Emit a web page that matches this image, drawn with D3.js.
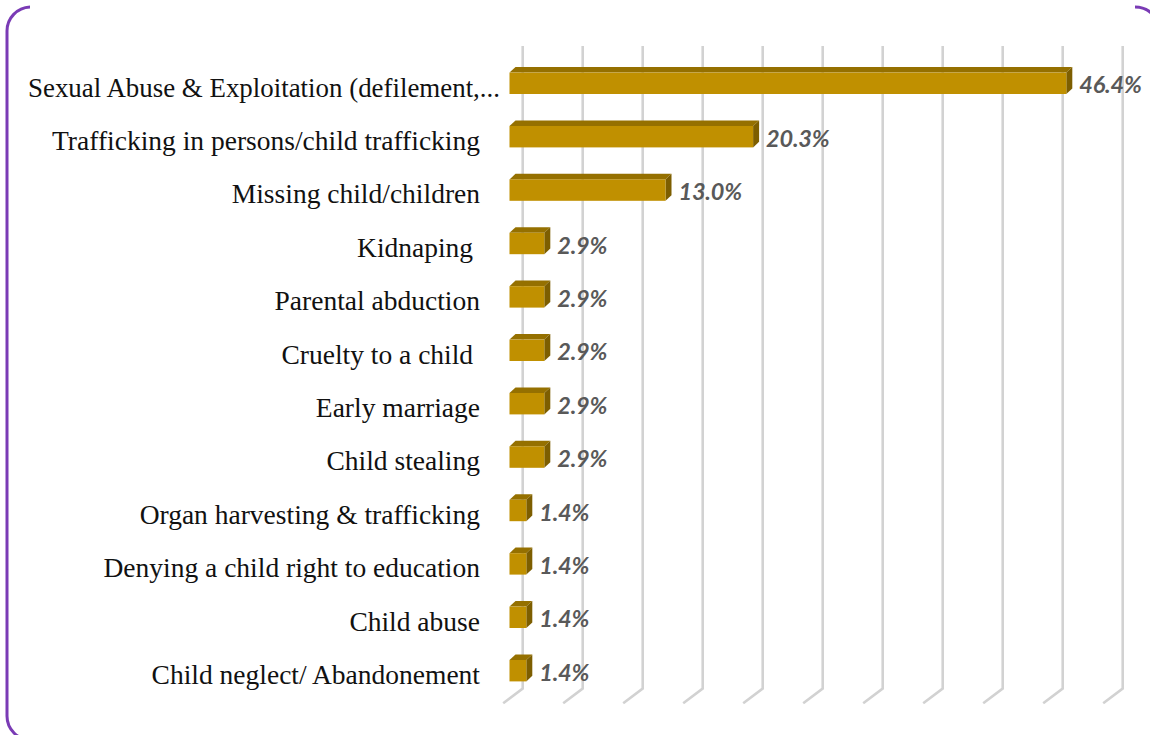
<!DOCTYPE html>
<html>
<head>
<meta charset="utf-8">
<script src="https://cdn.jsdelivr.net/npm/d3@7/dist/d3.min.js"></script>
<style>
  html, body { margin: 0; padding: 0; background: #fff; }
  svg { display: block; }
  text { white-space: pre; }
</style>
</head>
<body>
<svg id="chart" width="1150" height="735"></svg>
<script>
const categories = [
  "Sexual Abuse & Exploitation (defilement,...",
  "Trafficking in persons/child trafficking",
  "Missing child/children",
  "Kidnaping ",
  "Parental abduction",
  "Cruelty to a child ",
  "Early marriage",
  "Child stealing",
  "Organ harvesting & trafficking",
  "Denying a child right to education",
  "Child abuse",
  "Child neglect/ Abandonement"
];
const values = [46.4, 20.3, 13.0, 2.9, 2.9, 2.9, 2.9, 2.9, 1.4, 1.4, 1.4, 1.4];
const valueLabels = ["46.4%", "20.3%", "13.0%", "2.9%", "2.9%", "2.9%", "2.9%", "2.9%", "1.4%", "1.4%", "1.4%", "1.4%"];
const gridTicks = [0, 5, 10, 15, 20, 25, 30, 35, 40, 45, 50];

const svg = d3.select("#chart");

// Border (rounded frame, top edge hidden as in reference)
svg.append("path")
  .attr("d", "M 30,7 A 24,24 0 0 0 7,31 L 7,716 A 24,24 0 0 0 31,740")
  .attr("fill", "none").attr("stroke", "#7A3BB5").attr("stroke-width", 3);
svg.append("path")
  .attr("d", "M 1135,7 A 25,25 0 0 1 1160,32")
  .attr("fill", "none").attr("stroke", "#7A3BB5").attr("stroke-width", 3);

// Scales
const x = d3.scaleLinear().domain([0, 50]).range([509.5, 1109.5]);
const y = d3.scalePoint().domain(categories).range([56.6, 697.4]).padding(0.5);

// 3D geometry
const wallDx = 13.2;
const floorDx = 19.5, floorDy = 14.7;
const wallTop = 46, wallBottom = 688.5;
const depthDx = 6, depthDy = 5.6;
const halfH = 10.7;

// Gridlines on back wall + floor
const grid = svg.append("g");
gridTicks.forEach(t => {
  const gx = x(t) + wallDx;
  grid.append("path")
    .attr("d", `M ${gx},${wallTop} L ${gx},${wallBottom} L ${gx - floorDx},${wallBottom + floorDy}`)
    .attr("fill", "none").attr("stroke", "#D2D2D2").attr("stroke-width", 2.6)
    .attr("stroke-linejoin", "miter");
});

// Bars
const bars = svg.append("g").selectAll("g").data(categories).join("g");
bars.each(function(c, i) {
  const g = d3.select(this);
  const x0 = x(0), x1 = x(values[i]);
  const cy = y(c);
  const top = cy - halfH, bot = cy + halfH;
  g.append("path")
    .attr("d", `M ${x0},${top} L ${x0 + depthDx},${top - depthDy} L ${x1 + depthDx},${top - depthDy} L ${x1},${top} Z`)
    .attr("fill", "#957000");
  g.append("path")
    .attr("d", `M ${x1},${top} L ${x1 + depthDx},${top - depthDy} L ${x1 + depthDx},${bot - depthDy} L ${x1},${bot} Z`)
    .attr("fill", "#7D5E00");
  g.append("rect")
    .attr("x", x0).attr("y", top)
    .attr("width", x1 - x0).attr("height", bot - top)
    .attr("fill", "#C09000");
});

// Value labels
svg.append("g").selectAll("text").data(categories).join("text")
  .attr("x", (c, i) => x(values[i]) + depthDx + 7)
  .attr("y", c => y(c) + 1)
  .attr("dominant-baseline", "central")
  .attr("font-family", "Lato, 'Open Sans', sans-serif")
  .attr("font-style", "italic")
  .attr("font-weight", 700)
  .attr("font-size", 23.5)
  .attr("letter-spacing", "-0.2")
  .attr("fill", "#595959")
  .text((c, i) => valueLabels[i]);

// Category labels
const catLabels = svg.append("g").selectAll("text").data(categories).join("text")
  .attr("x", (c, i) => i === 0 ? 500 : 480)
  .attr("y", c => y(c) + 7)
  .attr("text-anchor", "end")
  .attr("dominant-baseline", "middle")
  .attr("font-family", "'Liberation Serif', 'DejaVu Serif', serif")
  .attr("font-size", 27.5)
  .attr("fill", "#111")
  .text(c => c);
// first (truncated) label spans the same width as in the reference
catLabels.filter((c, i) => i === 0)
  .attr("textLength", 472)
  .attr("lengthAdjust", "spacingAndGlyphs");
</script>
</body>
</html>
